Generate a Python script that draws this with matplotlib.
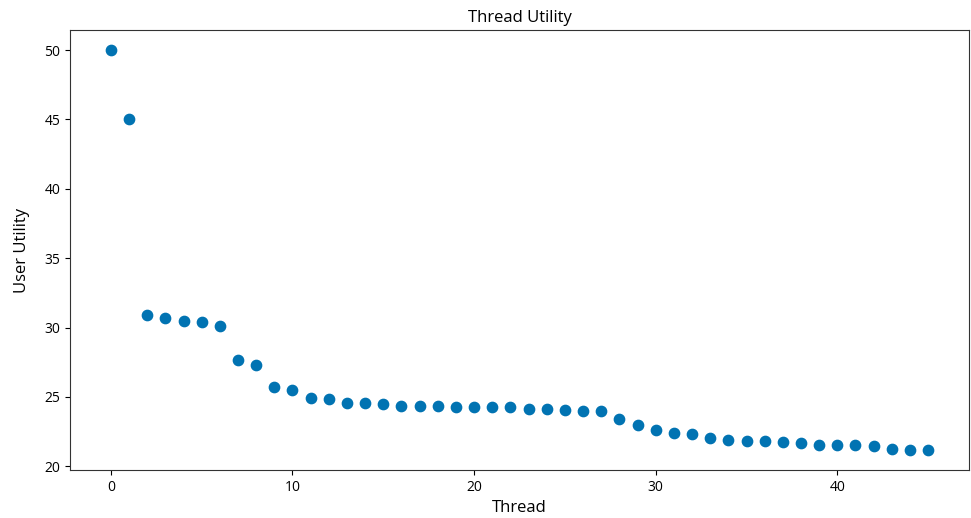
import matplotlib
matplotlib.use("Agg")
import matplotlib.pyplot as plt

threads = list(range(46))
utility = [50.0, 45.05, 30.9, 30.7, 30.48, 30.39, 30.1, 27.64, 27.28, 25.71,
           25.52, 24.94, 24.84, 24.58, 24.55, 24.46, 24.36, 24.36, 24.36, 24.27,
           24.27, 24.27, 24.27, 24.17, 24.17, 24.07, 23.98, 23.98, 23.42, 23.01,
           22.6, 22.41, 22.31, 22.02, 21.93, 21.83, 21.83, 21.74, 21.66, 21.57,
           21.57, 21.57, 21.47, 21.28, 21.18, 21.18]

plt.rcParams['font.family'] = ['Open Sans', 'DejaVu Sans']

fig = plt.figure(figsize=(9.71, 5.18), dpi=100)
ax = fig.add_axes([70 / 971, 48 / 518, 899 / 971, 440 / 518])
ax.scatter(threads, utility, s=55, color='#0173B2', zorder=3)

ax.set_title('Thread Utility', fontsize=12)
ax.set_xlabel('Thread', fontsize=12)
ax.set_ylabel('User Utility', fontsize=12, labelpad=10)
ax.tick_params(labelsize=10)
for s in ax.spines.values():
    s.set_color('#333333')

fig.savefig('out.png', dpi=100)
